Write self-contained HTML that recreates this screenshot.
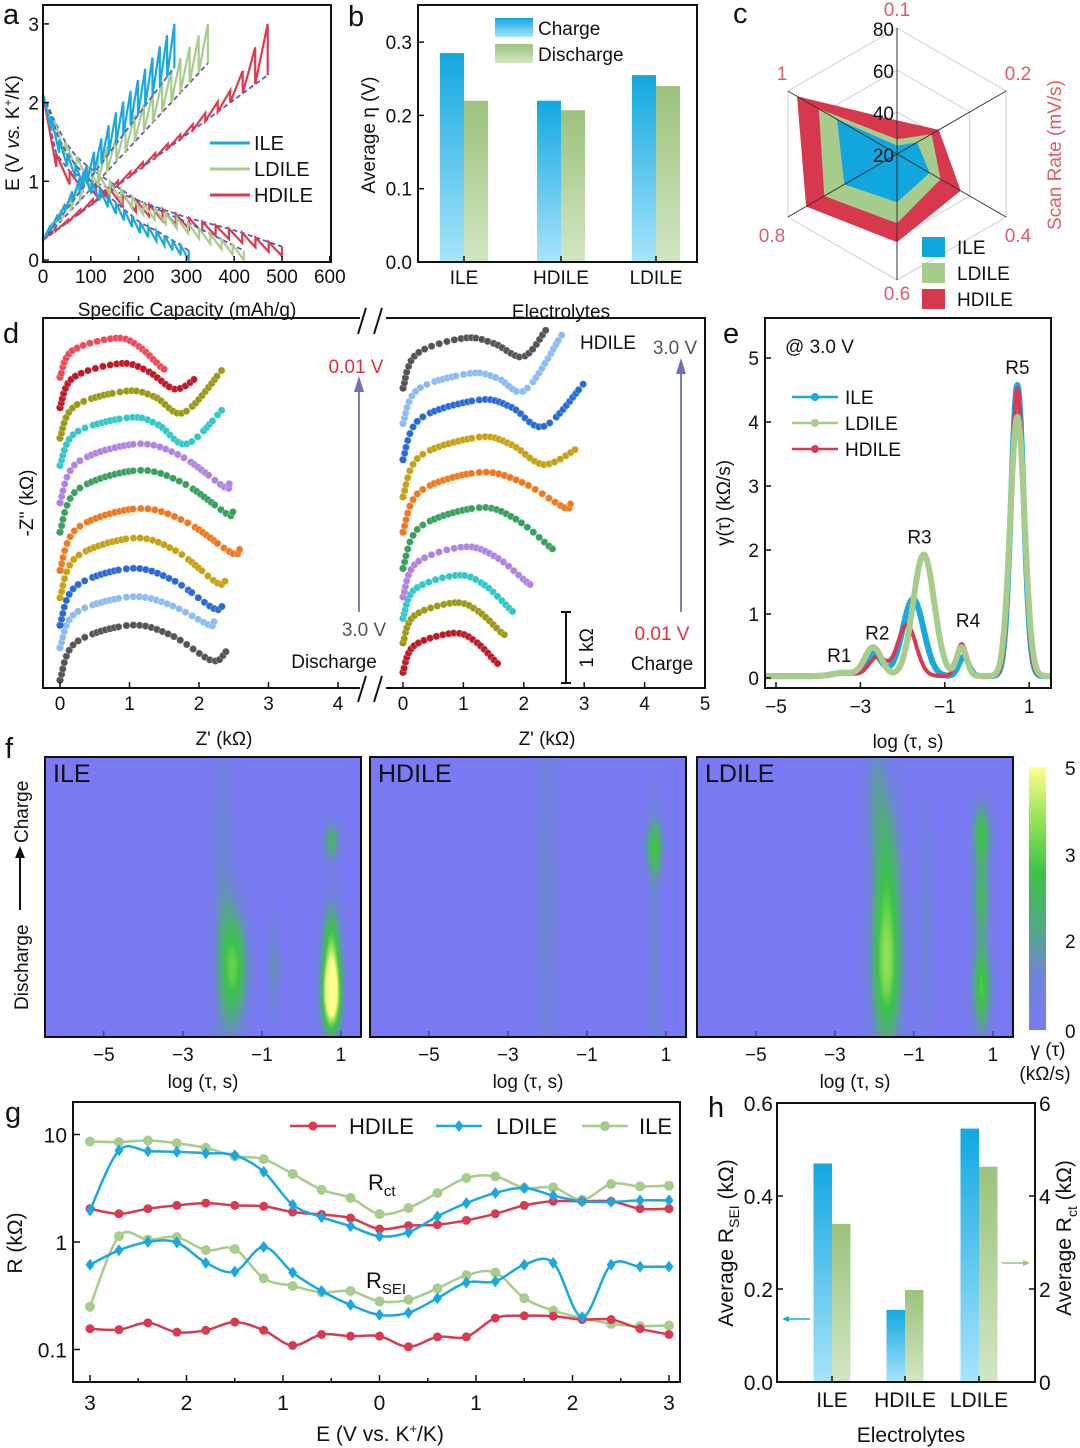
<!DOCTYPE html>
<html><head><meta charset="utf-8">
<style>
html,body{margin:0;padding:0;background:#fff;}
#wrap{position:relative;width:1080px;height:1448px;overflow:hidden;font-family:"Liberation Sans",Arial,sans-serif;}
svg text{font-family:"Liberation Sans",Arial,sans-serif;}
canvas{position:absolute;}
</style></head>
<body>
<div id="wrap">
<canvas id="hm0" width="316" height="280" style="left:45px;top:757px"></canvas>
<canvas id="hm1" width="316" height="280" style="left:370px;top:757px"></canvas>
<canvas id="hm2" width="316" height="280" style="left:697px;top:757px"></canvas>
<canvas id="cbar" width="17" height="263" style="left:1029px;top:767px"></canvas>
<svg id="svg" width="1080" height="1448" style="position:absolute;left:0;top:0" xmlns="http://www.w3.org/2000/svg">
<defs>
<linearGradient id="gBlue" x1="0" y1="0" x2="0" y2="1"><stop offset="0" stop-color="#12a8e0"/><stop offset="1" stop-color="#a8e4fa"/></linearGradient>
<linearGradient id="gGreen" x1="0" y1="0" x2="0" y2="1"><stop offset="0" stop-color="#9cc27c"/><stop offset="1" stop-color="#d2e6c4"/></linearGradient>
</defs>
</svg>
</div>
<script>
// ---------- DATA ----------
const aNames=['ILE','LDILE','HDILE'];
const aChgCap=[[0,50,100,150,200,275],[0,100,200,345],[0,50,100,200,300,400,470]];
const aChgE=[[0.3,0.75,1.3,1.85,2.3,3.0],[0.3,1.2,1.9,3.0],[0.3,0.5,0.75,1.2,1.65,2.2,3.0]];
const aRelaxEnd=[2.45,2.5,2.35];
const aDisCap=[[0,30,60,100,150,200,250,305],[0,30,60,100,150,200,300,420],[0,20,40,60,100,200,300,400,500]];
const aDisE=[[2.0,1.4,1.1,0.85,0.6,0.35,0.2,0],[2.0,1.5,1.2,1.0,0.8,0.6,0.35,0],[2.0,1.3,1.0,0.95,0.85,0.6,0.4,0.25,0.05]];
const bCats=['ILE','HDILE','LDILE'];
const bCharge=[0.285,0.22,0.255];
const bDischarge=[0.22,0.207,0.24];
const cAxes=['0.1','0.2','0.4','0.6','0.8','1'];
const cILE=[24,31,38,43,49,53];
const cLDILE=[27,39,44,53,60,63];
const cHDILE=[36,43,55,62,70,75];
const dLeftColors=['#555555','#8cbcf2','#2a6ad8','#c8a214','#f07820','#3aa060','#b084e2','#30c8c8','#9a9a14','#c01826','#f04858'];
const dLeftBase=[0.08,0.41,0.64,0.92,1.2,1.59,1.89,2.27,2.55,2.86,3.17];
const dLeftPeakH=[0.56,0.52,0.58,0.61,0.63,0.63,0.6,0.49,0.48,0.45,0.4];
const dLeftPeakX=[1.0,1.0,1.0,1.05,1.1,1.1,1.1,1.0,0.95,0.85,0.8];
const dLeftMinX=[2.17,2.14,2.2,2.25,2.45,2.4,2.35,1.81,1.77,1.64,1.45];
const dLeftMinH=[0.2,0.23,0.17,0.15,0.18,0.18,0.16,0.22,0.26,0.19,0.1];
const dLeftEndX=[2.37,2.2,2.33,2.37,2.57,2.47,2.42,2.33,2.33,1.94,1.49];
const dLeftEndH=[0.29,0.28,0.22,0.2,0.22,0.22,0.2,0.58,0.71,0.3,0.1];
const dRightColors=['#c01826','#9a9a14','#30c8c8','#b084e2','#3aa060','#f07820','#c8a214','#2a6ad8','#8cbcf2','#555555'];
const dRightBase=[0.16,0.46,0.71,0.93,1.22,1.59,1.95,2.33,2.7,3.06];
const dRightPeakH=[0.40,0.41,0.44,0.51,0.62,0.61,0.61,0.61,0.51,0.51];
const dRightPeakX=[0.83,0.85,0.9,1.0,1.25,1.25,1.25,1.25,1.1,1.0];
const dRightMinX=[1.55,1.62,1.78,2.05,2.45,2.65,2.31,2.31,2.0,1.97];
const dRightMinH=[0.09,0.1,0.08,0.14,0.2,0.25,0.33,0.34,0.34,0.32];
const dRightEndX=[1.59,1.67,1.82,2.11,2.5,2.75,2.87,2.98,2.6,2.34];
const dRightEndH=[0.09,0.1,0.08,0.14,0.21,0.31,0.5,0.79,0.9,0.59];
const eNames=['ILE','LDILE','HDILE'];
const ePeakPos=[[-3.4,-2.7,-1.75,-0.55,0.72],[-3.4,-2.7,-1.5,-0.6,0.72],[-3.4,-2.6,-1.9,-0.6,0.72]];
const ePeakAmp=[[0.05,0.35,1.2,0.3,4.55],[0.05,0.45,1.9,0.45,4.05],[0.05,0.3,0.8,0.5,4.5]];
const ePeakWidth=[[0.25,0.2,0.25,0.12,0.15],[0.25,0.2,0.25,0.12,0.17],[0.25,0.2,0.22,0.12,0.15]];
const fTau=[[0.75,0.75,0.75,-1.7,-2.0,-0.7],[0.7,0.7,-2.0],[-1.7,-1.7,-2.0,0.7,0.7,0.7,-0.7]];
const fRow=[[0.86,0.7,0.3,0.75,0.5,0.75],[0.32,0.7,0.5],[0.78,0.4,0.1,0.82,0.5,0.27,0.6]];
const fSx=[[0.17,0.17,0.15,0.25,0.2,0.12],[0.17,0.12,0.2],[0.28,0.28,0.2,0.17,0.17,0.17,0.12]];
const fSy=[[0.09,0.13,0.05,0.15,0.5,0.13],[0.07,0.4,0.6],[0.2,0.22,0.15,0.12,0.1,0.08,0.3]];
const fAmp=[[5.2,3.4,2.3,3.1,1.1,1.4],[2.4,1.1,1.1],[3.4,2.2,1.1,3.2,2.3,2.8,1.1]];
const gE=[3,2.7,2.4,2.1,1.8,1.5,1.2,0.9,0.6,0.3,0,0.3,0.6,0.9,1.2,1.5,1.8,2.1,2.4,2.7,3];
const gTickLabels=[3,2,1,0,1,2,3];
const gHDct=[2.04,1.83,2.04,2.19,2.3,2.19,2.15,1.9,1.8,1.67,1.32,1.42,1.45,1.59,1.83,2.19,2.39,2.39,2.39,2.04,2.04];
const gLDct=[1.97,7.1,7.0,6.9,6.7,6.4,4.5,2.22,1.7,1.4,1.13,1.23,1.73,2.3,2.86,3.18,2.7,2.39,2.36,2.44,2.44];
const gILct=[8.6,8.5,8.8,8.3,7.5,6.3,5.9,4.3,3.06,2.57,1.82,2.07,2.86,3.94,4.08,3.18,3.22,2.47,3.46,3.29,3.34];
const gHDsei=[0.156,0.153,0.177,0.145,0.151,0.18,0.151,0.109,0.138,0.133,0.133,0.106,0.131,0.131,0.196,0.206,0.204,0.19,0.19,0.156,0.138];
const gLDsei=[0.615,0.837,1.0,0.99,0.64,0.53,0.9,0.52,0.35,0.26,0.21,0.22,0.30,0.42,0.43,0.615,0.64,0.2,0.615,0.59,0.59];
const gILsei=[0.25,1.13,1.05,1.11,0.84,0.86,0.46,0.39,0.34,0.35,0.28,0.29,0.37,0.49,0.52,0.30,0.23,0.196,0.173,0.165,0.167];
const hCats=['ILE','HDILE','LDILE'];
const hSEI=[0.47,0.155,0.545];
const hRct=[3.4,1.98,4.63];

// ---------- HELPERS ----------
const svg=document.getElementById('svg');
const NS='http://www.w3.org/2000/svg';
function el(tag,attrs,parent){const e=document.createElementNS(NS,tag);for(const k in attrs)e.setAttribute(k,attrs[k]);(parent||svg).appendChild(e);return e;}
function txt(x,y,s,size,opts){opts=opts||{};const t=el('text',{x:x,y:y,'font-size':size,fill:opts.fill||'#111','text-anchor':opts.anchor||'start'},opts.parent);if(opts.rot)t.setAttribute('transform','rotate('+opts.rot+' '+x+' '+y+')');t.innerHTML=s;return t;}
function rect(x,y,w,h,name){const r=el('rect',{x:x,y:y,width:w,height:h,fill:'none',stroke:'#111','stroke-width':2});return r;}
function line(x1,y1,x2,y2,stroke,w,name,extra){const l=el('line',Object.assign({x1:x1,y1:y1,x2:x2,y2:y2,stroke:stroke,'stroke-width':w},extra||{}));return l;}
function interp(xs,ys,x){for(let i=1;i<xs.length;i++){if(x<=xs[i]){const t=(x-xs[i-1])/(xs[i]-xs[i-1]);return ys[i-1]+t*(ys[i]-ys[i-1]);}}return ys[ys.length-1];}
function smoothPath(pts){let d='M'+pts[0][0]+','+pts[0][1];for(let i=0;i<pts.length-1;i++){const p0=pts[Math.max(i-1,0)],p1=pts[i],p2=pts[i+1],p3=pts[Math.min(i+2,pts.length-1)];const c1=[p1[0]+(p2[0]-p0[0])/6,p1[1]+(p2[1]-p0[1])/6],c2=[p2[0]-(p3[0]-p1[0])/6,p2[1]-(p3[1]-p1[1])/6];d+=' C'+c1[0].toFixed(1)+','+c1[1].toFixed(1)+' '+c2[0].toFixed(1)+','+c2[1].toFixed(1)+' '+p2[0].toFixed(1)+','+p2[1].toFixed(1);}return d;}
function crSample(pts,n){const out=[];for(let i=0;i<pts.length-1;i++){const p0=pts[Math.max(i-1,0)],p1=pts[i],p2=pts[i+1],p3=pts[Math.min(i+2,pts.length-1)];for(let k=0;k<n;k++){const t=k/n,t2=t*t,t3=t2*t;const f=(a,b,c,d)=>0.5*((2*b)+(-a+c)*t+(2*a-5*b+4*c-d)*t2+(-a+3*b-3*c+d)*t3);out.push([f(p0[0],p1[0],p2[0],p3[0]),f(p0[1],p1[1],p2[1],p3[1])]);}}out.push(pts[pts.length-1]);return out;}

// ---------- PANEL A ----------
(function(){
 const ax=v=>43+v*0.478, ay=v=>260-v*78.7;
 const aCol=['#1aa8e0','#a8cc8c','#e0384e'];
 for(let s=2;s>=0;s--){
  const col=aCol[s];
  const caps=aDisCap[s],Es=aDisE[s],maxc=caps[caps.length-1];
  let d='',dd='';
  const step=maxc/18;
  for(let c=0;c<=maxc+0.01;c+=step){const e=interp(caps,Es,c);const r=e+0.12+0.05*(1-c/maxc);
   d+=(c===0?'M':'L')+ax(c).toFixed(1)+','+ay(e).toFixed(1)+' L'+ax(c).toFixed(1)+','+ay(Math.min(r,2.1)).toFixed(1)+' ';
   dd+=(c===0?'M':'L')+ax(c).toFixed(1)+','+ay(Math.min(r,2.1)).toFixed(1)+' ';}
  const cc=aChgCap[s],ce=aChgE[s],mc=cc[cc.length-1];
  let p='',pd='';const st2=mc/18;
  for(let c=0;c<=mc+0.01;c+=st2){const e=interp(cc,ce,c);const r=0.25+(aRelaxEnd[s]-0.25)*(c/mc);
   p+=(c===0?'M':'L')+ax(c).toFixed(1)+','+ay(e).toFixed(1)+' L'+ax(c).toFixed(1)+','+ay(Math.min(r,e)).toFixed(1)+' ';
   pd+=(c===0?'M':'L')+ax(c).toFixed(1)+','+ay(r).toFixed(1)+' ';}
  const e1=el('path',{d:dd,fill:'none',stroke:'#5a5ab8','stroke-width':1.8,'stroke-dasharray':'5,3'});
  const e2=el('path',{d:pd,fill:'none',stroke:'#5a5ab8','stroke-width':1.8,'stroke-dasharray':'5,3'});
  const e3=el('path',{d:d,fill:'none',stroke:col,'stroke-width':2.2});
  const e4=el('path',{d:p,fill:'none',stroke:col,'stroke-width':2.2});
 }
 rect(43,5,288,257,'plot-frame-a');
 [0,100,200,300,400,500,600].forEach(v=>{line(ax(v),262,ax(v),256,'#111',1.5,'x-tick-a');txt(ax(v),283,v,19,{anchor:'middle',name:'x-tick-label-a'});});
 [0,1,2,3].forEach(v=>{line(43,ay(v),49,ay(v),'#111',1.5,'y-tick-a');txt(39,ay(v)+7,v,19,{anchor:'end',name:'y-tick-label-a'});});
 txt(3,24,'a',29,{name:'panel-label-a'});
 txt(187,316,'Specific Capacity (mAh/g)',19,{anchor:'middle',name:'x-axis-title-a'});
 txt(19,133,'E (V <tspan font-style="italic">vs.</tspan> K<tspan font-size="12" dy="-7">+</tspan><tspan dy="7">/K)</tspan>',19,{anchor:'middle',rot:-90,name:'y-axis-title-a'});
 aNames.forEach((n,i)=>{line(210,143+i*26,250,143+i*26,aCol[i],3,'legend-swatch-a');txt(254,150+i*26,n,20,{name:'legend-entry-a'});});
})();

// ---------- PANEL B ----------
(function(){
 const by=v=>262-v*733, cx=[464,561,656];
 bCats.forEach((c,i)=>{
  const r1=el('rect',{x:cx[i]-24,y:by(bCharge[i]),width:24,height:262-by(bCharge[i]),fill:'url(#gBlue)'});
  const r2=el('rect',{x:cx[i],y:by(bDischarge[i]),width:24,height:262-by(bDischarge[i]),fill:'url(#gGreen)'});
  line(cx[i],262,cx[i],256,'#111',1.5,'x-tick-b');
  txt(cx[i],284,c,19,{anchor:'middle',name:'x-tick-label-b'});
 });
 rect(418,5,279,257,'plot-frame-b');
 [0,0.1,0.2,0.3].forEach(v=>{line(418,by(v),424,by(v),'#111',1.5,'y-tick-b');txt(412,by(v)+7,v.toFixed(1),19,{anchor:'end',name:'y-tick-label-b'});});
 txt(348,26,'b',29,{name:'panel-label-b'});
 txt(375,135,'Average η (V)',19,{anchor:'middle',rot:-90,name:'y-axis-title-b'});
 txt(561,318,'Electrolytes',19,{anchor:'middle',name:'x-axis-title-b'});
 let s=el('rect',{x:495,y:18,width:38,height:19,fill:'url(#gBlue)'});
 s=el('rect',{x:495,y:44,width:38,height:19,fill:'url(#gGreen)'});
 txt(538,35,'Charge',19,{name:'legend-entry-charge'});
 txt(538,61,'Discharge',19,{name:'legend-entry-discharge'});
})();

// ---------- PANEL C ----------
(function(){
 const cx=897,cy=154,R=126;
 const rr=v=>(v-20)/60*R;
 const ang=i=>(-90+60*i)*Math.PI/180;
 [40,60,80].forEach(v=>{const pts=cAxes.map((a,i)=>[cx+rr(v)*Math.cos(ang(i)),cy+rr(v)*Math.sin(ang(i))]);const p=el('polygon',{points:pts.map(q=>q.join(',')).join(' '),fill:'none',stroke:'#ccc','stroke-width':1});});
 const series=[[cHDILE,'#d8384e','hdile'],[cLDILE,'#a8cc8c','ldile'],[cILE,'#12a6de','ile']];
 series.forEach(s=>{const pts=s[0].map((v,i)=>[cx+rr(v)*Math.cos(ang(i)),cy+rr(v)*Math.sin(ang(i))]);const p=el('polygon',{points:pts.map(q=>q[0].toFixed(1)+','+q[1].toFixed(1)).join(' '),fill:s[1]});});
 cAxes.forEach((a,i)=>{line(cx,cy,cx+R*Math.cos(ang(i)),cy+R*Math.sin(ang(i)),'#333',1,'radar-axis');});
 const lp=[[897,16,'middle'],[1018,80,'middle'],[1018,242,'middle'],[897,300,'middle'],[772,242,'middle'],[782,80,'middle']];
 cAxes.forEach((a,i)=>txt(lp[i][0],lp[i][1],a,19,{anchor:lp[i][2],fill:'#e05a6e',name:'radar-axis-label'}));
 [[80,36],[60,78],[40,120],[20,162]].forEach(t=>txt(894,t[1],t[0],19,{anchor:'end',name:'radar-tick-label'}));
 txt(733,23,'c',29,{name:'panel-label-c'});
 txt(1061,155,'Scan Rate (mV/s)',19,{anchor:'middle',rot:-90,fill:'#e05a6e',name:'radar-axis-title'});
 [['ILE','#12a6de'],['LDILE','#a8cc8c'],['HDILE','#d8384e']].forEach((l,i)=>{const r=el('rect',{x:922,y:237+i*26,width:23,height:20,fill:l[1]});txt(957,254+i*26,l[0],19,{name:'legend-entry-c'});});
})();

// ---------- PANEL D ----------
(function(){
 const yBase=688, vs=98;
 function drawSet(x0,hs,cols,base,ph,px,mx,mh,exx,eh,side){
  cols.forEach((col,i)=>{
   const b=base[i];
   const P=[[0,b],[px[i]*0.22,b+ph[i]*0.68],[px[i],b+ph[i]],[(px[i]+mx[i])/2,b+mh[i]+(ph[i]-mh[i])*0.72],[mx[i],b+mh[i]]];
   if(exx[i]-mx[i]>0.03)P.push([exx[i],b+eh[i]]);
   const pts=P.map(q=>[x0+q[0]*hs,yBase-q[1]*vs]);
   const smp=crSample(pts,14);
   const g=el('g',{});
   let last=smp[0];
   el('circle',{cx:last[0].toFixed(1),cy:last[1].toFixed(1),r:3.6,fill:col},g);
   for(let k=1;k<smp.length;k++){const dx=smp[k][0]-last[0],dy=smp[k][1]-last[1];if(Math.hypot(dx,dy)>=4.2){el('circle',{cx:smp[k][0].toFixed(1),cy:smp[k][1].toFixed(1),r:3.6,fill:col,stroke:'rgba(255,255,255,0.35)','stroke-width':0.8},g);last=smp[k];}}
  });
 }
 drawSet(60,70,dLeftColors,dLeftBase,dLeftPeakH,dLeftPeakX,dLeftMinX,dLeftMinH,dLeftEndX,dLeftEndH,'discharge');
 drawSet(403,61,dRightColors,dRightBase,dRightPeakH,dRightPeakX,dRightMinX,dRightMinH,dRightEndX,dRightEndH,'charge');
 rect(43,318,662,370,'plot-frame-d');
 el('rect',{x:360,y:312,width:26,height:12,fill:'#fff'});el('rect',{x:360,y:682,width:26,height:12,fill:'#fff'});
 line(358,334,366,308,'#111',2,'axis-break');line(374,334,382,308,'#111',2,'axis-break');
 line(358,702,366,676,'#111',2,'axis-break');line(374,702,382,676,'#111',2,'axis-break');
 [0,1,2,3,4].forEach(v=>{const x=60+v*69.5;line(x,688,x,682,'#111',1.5,'x-tick-d');txt(x,710,v,19,{anchor:'middle',name:'x-tick-label-d'});});
 [0,1,2,3,4,5].forEach(v=>{const x=403+v*60.4;line(x,688,x,682,'#111',1.5,'x-tick-d');txt(x,710,v,19,{anchor:'middle',name:'x-tick-label-d'});});
 txt(3,343,'d',29,{name:'panel-label-d'});
 txt(33,503,'-Z\'\' (kΩ)',19,{anchor:'middle',rot:-90,name:'y-axis-title-d'});
 txt(224,745,'Z\' (kΩ)',19,{anchor:'middle',name:'x-axis-title-d-left'});
 txt(547,745,'Z\' (kΩ)',19,{anchor:'middle',name:'x-axis-title-d-right'});
 line(359,612,359,390,'#7070b8',1.8,'arrow-discharge');el('polygon',{points:'354,392 359,376 364,392',fill:'#7070b8'});
 line(681,612,681,372,'#7070b8',1.8,'arrow-charge');el('polygon',{points:'676,374 681,358 686,374',fill:'#7070b8'});
 txt(356,373,'0.01 V',19,{anchor:'middle',fill:'#e03040',name:'voltage-label'});
 txt(364,636,'3.0 V',19,{anchor:'middle',fill:'#555',name:'voltage-label'});
 txt(334,668,'Discharge',19,{anchor:'middle',name:'discharge-label'});
 txt(608,349,'HDILE',19,{anchor:'middle',name:'electrolyte-label'});
 txt(675,354,'3.0 V',19,{anchor:'middle',fill:'#555',name:'voltage-label'});
 txt(662,640,'0.01 V',19,{anchor:'middle',fill:'#e03040',name:'voltage-label'});
 txt(662,670,'Charge',19,{anchor:'middle',name:'charge-label'});
 line(566,612,566,683,'#111',2,'scale-bar');line(561,612,571,612,'#111',2,'scale-bar-cap');line(561,683,571,683,'#111',2,'scale-bar-cap');
 txt(593,648,'1 kΩ',19,{anchor:'middle',rot:-90,name:'scale-bar-label'});
})();

// ---------- PANEL E ----------
(function(){
 const ex=v=>776+(v+5)*42.2, ey=v=>678-v*64;
 const cols=['#1aa8e0','#a8cc8c','#d83a52'], lw=[6,6,4];
 [0,2,1].forEach(s=>{
  const pts=[];
  for(let x=-5.26;x<=1.52;x+=0.02){let v=0.03;for(let k=0;k<5;k++){v+=ePeakAmp[s][k]*Math.exp(-0.5*Math.pow((x-ePeakPos[s][k])/ePeakWidth[s][k],2));}pts.push(ex(x).toFixed(1)+','+ey(v).toFixed(1));}
  const p=el('polyline',{points:pts.join(' '),fill:'none',stroke:cols[s],'stroke-width':lw[s],'stroke-linejoin':'round'});
 });
 rect(765,318,286,370,'plot-frame-e');
 [-5,-3,-1,1].forEach(v=>{line(ex(v),688,ex(v),682,'#111',1.5,'x-tick-e');txt(ex(v),713,v===1?'1':'−'+Math.abs(v),19,{anchor:'middle',name:'x-tick-label-e'});});
 [0,1,2,3,4,5].forEach(v=>{line(765,ey(v),771,ey(v),'#111',1.5,'y-tick-e');txt(759,ey(v)+7,v,19,{anchor:'end',name:'y-tick-label-e'});});
 txt(723,343,'e',29,{name:'panel-label-e'});
 txt(785,353,'@ 3.0 V',19,{name:'condition-label'});
 txt(730,503,'γ(τ) (kΩ/s)',19,{anchor:'middle',rot:-90,name:'y-axis-title-e'});
 txt(908,748,'log (τ, s)',19,{anchor:'middle',name:'x-axis-title-e'});
 [['ILE',0],['LDILE',1],['HDILE',2]].forEach((l,i)=>{line(792,397+i*26,838,397+i*26,cols[l[1]],2.5,'legend-line-e');el('circle',{cx:815,cy:397+i*26,r:4,fill:cols[l[1]]});txt(845,404+i*26,l[0],19,{name:'legend-entry-e'});});
 [['R1',-3.5,0.25],['R2',-2.6,0.6],['R3',-1.6,2.1],['R4',-0.45,0.8],['R5',0.72,4.75]].forEach(r=>txt(ex(r[1]),ey(r[2]),r[0],19,{anchor:'middle',name:'peak-label'}));
})();

// ---------- PANEL F ----------
(function(){
 const stops=[[0,[122,122,245]],[1,[112,132,218]],[2,[82,170,130]],[3,[60,196,72]],[4,[150,226,86]],[5,[255,255,140]]];
 function cmap(v){v=Math.max(0,Math.min(5,v));for(let i=1;i<stops.length;i++){if(v<=stops[i][0]){const t=(v-stops[i-1][0])/(stops[i][0]-stops[i-1][0]);return stops[i-1][1].map((c,k)=>Math.round(c+t*(stops[i][1][k]-c)));}}return stops[5][1];}
 for(let p=0;p<3;p++){
  const c=document.getElementById('hm'+p),ctx=c.getContext('2d');const W=c.width,H=c.height;const img=ctx.createImageData(W,H);
  for(let y=0;y<H;y++)for(let x=0;x<W;x++){const lt=-6.49+x/39.5, r=y/H;let v=0;for(let k=0;k<fTau[p].length;k++){v+=fAmp[p][k]*Math.exp(-0.5*(Math.pow((lt-fTau[p][k])/fSx[p][k],2)+Math.pow((r-fRow[p][k])/fSy[p][k],2)));}
   const col=cmap(v);const i=(y*W+x)*4;img.data[i]=col[0];img.data[i+1]=col[1];img.data[i+2]=col[2];img.data[i+3]=255;}
  ctx.putImageData(img,0,0);
 }
 const cb=document.getElementById('cbar'),cc=cb.getContext('2d');for(let y=0;y<cb.height;y++){const col=cmap(5*(1-y/cb.height));cc.fillStyle='rgb('+col.join(',')+')';cc.fillRect(0,y,cb.width,1);}
 const x0s=[45,370,697],names=['ILE','HDILE','LDILE'];
 x0s.forEach((x0,i)=>{rect(x0,757,316,280,'heatmap-frame-'+names[i].toLowerCase());
  [-5,-3,-1,1].forEach(v=>{const x=x0+(v+6.49)*39.5;line(x,1037,x,1031,'#333',1,'x-tick-f');txt(x,1061,v===1?'1':'−'+Math.abs(v),19,{anchor:'middle',name:'x-tick-label-f'});});
  txt(x0+158,1088,'log (τ, s)',19,{anchor:'middle',name:'x-axis-title-f'});
  txt(x0+8,782,names[i],25,{name:'heatmap-title'});
 });
 txt(5,758,'f',29,{name:'panel-label-f'});
 txt(28,1010,'Discharge',19,{rot:-90,name:'y-axis-title-f'});
 line(20,910,20,855,'#111',2,'direction-arrow');el('polygon',{points:'15,858 20,846 25,858',fill:'#111'});
 txt(28,843,'Charge',19,{rot:-90,name:'y-axis-title-f'});
 [[5,775],[3,862],[2,948],[0,1038]].forEach(t=>{txt(1065,t[1],t[0],19,{name:'colorbar-tick-label'});});
 txt(1048,1056,'γ (τ)',19,{anchor:'middle',name:'colorbar-title'});
 txt(1045,1080,'(kΩ/s)',19,{anchor:'middle',name:'colorbar-title'});
})();

// ---------- PANEL G ----------
(function(){
 const gx=i=>90+i*28.95, gy=v=>1242-Math.log10(v)*107.5;
 const tx=k=>90+k*96.5;
 const S=[[gHDct,'#d83a52','circle','hdile-rct'],[gLDct,'#1aa8e0','diamond','ldile-rct'],[gILct,'#a8cc8c','penta','ile-rct'],
          [gHDsei,'#d83a52','circle','hdile-rsei'],[gLDsei,'#1aa8e0','diamond','ldile-rsei'],[gILsei,'#a8cc8c','penta','ile-rsei']];
 function marker(x,y,shape,col,g){if(shape==='circle')el('circle',{cx:x,cy:y,r:4.5,fill:col},g);else if(shape==='diamond')el('polygon',{points:(x)+','+(y-6)+' '+(x+4.5)+','+y+' '+x+','+(y+6)+' '+(x-4.5)+','+y,fill:col},g);else el('circle',{cx:x,cy:y,r:5,fill:col},g);}
 [2,0,1,5,3,4].forEach(k=>{const s=S[k];const pts=s[0].map((v,i)=>[gx(i),gy(v)]);
  const g=el('g',{});
  el('path',{d:smoothPath(pts),fill:'none',stroke:s[1],'stroke-width':2.5},g);
  pts.forEach(p=>marker(p[0],p[1],s[2],s[1],g));});
 rect(73,1102,607,280,'plot-frame-g');
 for(let k=0;k<=12;k++){line(tx(k/2),1382,tx(k/2),k%2?1378:1375,'#111',1.5,'x-tick-g');}
 gTickLabels.forEach((v,k)=>txt(tx(k),1410,v,21,{anchor:'middle',name:'x-tick-label-g'}));
 [[10,'10'],[1,'1'],[0.1,'0.1']].forEach(t=>{line(73,gy(t[0]),80,gy(t[0]),'#111',1.5,'y-tick-g');txt(67,gy(t[0])+8,t[1],21,{anchor:'end',name:'y-tick-label-g'});});
 txt(5,1122,'g',29,{name:'panel-label-g'});
 txt(22,1243,'R (kΩ)',21,{anchor:'middle',rot:-90,name:'y-axis-title-g'});
 txt(380,1441,'E (V vs. K<tspan font-size="13" dy="-8">+</tspan><tspan dy="8">/K)</tspan>',21,{anchor:'middle',name:'x-axis-title-g'});
 txt(368,1190,'R<tspan font-size="15" dy="6">ct</tspan>',22,{name:'rct-label'});
 txt(366,1288,'R<tspan font-size="15" dy="6">SEI</tspan>',22,{name:'rsei-label'});
 [['HDILE','#d83a52','circle',290,349],['LDILE','#1aa8e0','diamond',436,496],['ILE','#a8cc8c','penta',582,639]].forEach(l=>{line(l[3],1126,l[3]+46,1126,l[1],2.5,'legend-line-g');marker(l[3]+23,1126,l[2],l[1],svg);txt(l[4],1134,l[0],22,{name:'legend-entry-g'});});
})();

// ---------- PANEL H ----------
(function(){
 const hy=v=>1382-v/0.6*279, hy2=v=>1382-v/6*279, cx=[832,905,979];
 hCats.forEach((c,i)=>{
  const r1=el('rect',{x:cx[i]-18.5,y:hy(hSEI[i]),width:18.5,height:1382-hy(hSEI[i]),fill:'url(#gBlue)'});
  const r2=el('rect',{x:cx[i],y:hy2(hRct[i]),width:18.5,height:1382-hy2(hRct[i]),fill:'url(#gGreen)'});
  line(cx[i],1382,cx[i],1376,'#111',1.5,'x-tick-h');
 });
 rect(777,1103,258,279,'plot-frame-h');
 txt(832,1407,'ILE',21,{anchor:'middle',name:'x-tick-label-h'});
 txt(905,1407,'HDILE',21,{anchor:'middle',name:'x-tick-label-h'});
 txt(979,1407,'LDILE',21,{anchor:'middle',name:'x-tick-label-h'});
 [0,0.2,0.4,0.6].forEach(v=>{line(777,hy(v),783,hy(v),'#111',1.5,'y-tick-h');txt(773,hy(v)+8,v.toFixed(1),21,{anchor:'end',name:'y-tick-label-h'});});
 [0,2,4,6].forEach(v=>{line(1035,hy2(v),1029,hy2(v),'#111',1.5,'y2-tick-h');txt(1039,hy2(v)+8,v,21,{name:'y2-tick-label-h'});});
 txt(708,1117,'h',29,{name:'panel-label-h'});
 txt(733,1243,'Average R<tspan font-size="14" dy="6">SEI</tspan><tspan dy="-6"> (kΩ)</tspan>',21,{anchor:'middle',rot:-90,name:'y-axis-title-h'});
 txt(1071,1238,'Average R<tspan font-size="14" dy="6">ct</tspan><tspan dy="-6"> (kΩ)</tspan>',21,{anchor:'middle',rot:-90,name:'y2-axis-title-h'});
 txt(911,1442,'Electrolytes',21,{anchor:'middle',name:'x-axis-title-h'});
 line(784,1319,810,1319,'#1aa8e0',1.5,'arrow-left-axis');el('polygon',{points:'782,1319 789,1316 789,1322',fill:'#1aa8e0'});
 line(1002,1263,1028,1263,'#9cc27c',1.5,'arrow-right-axis');el('polygon',{points:'1030,1263 1023,1260 1023,1266',fill:'#9cc27c'});
})();
</script>
</body></html>
